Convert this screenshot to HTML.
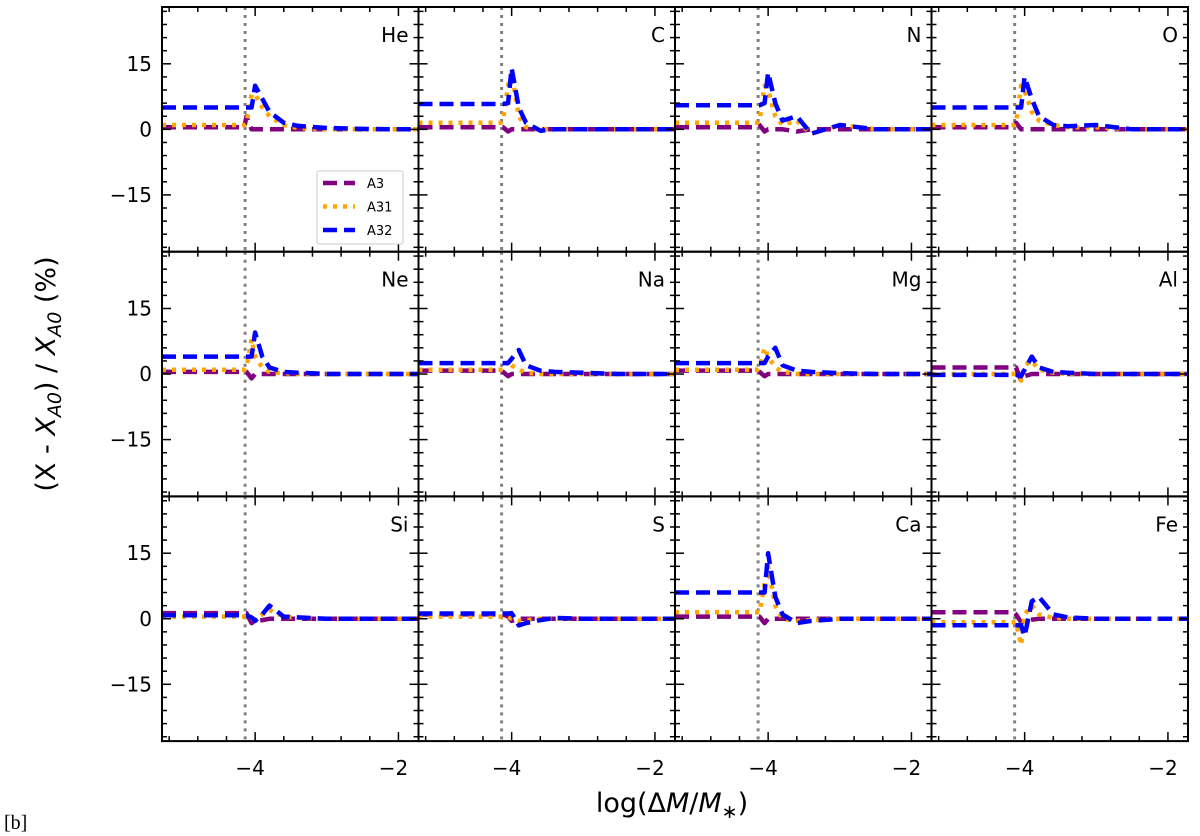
<!DOCTYPE html>
<html><head><meta charset="utf-8"><style>
html,body{margin:0;padding:0;background:#fff;}
svg{display:block;font-family:"DejaVu Sans","Liberation Sans",sans-serif;}
</style></head><body>
<svg id="chart" width="1200" height="836"></svg>
<script>
const elements = ["He","C","N","O","Ne","Na","Mg","Al","Si","S","Ca","Fe"];
const seriesNames = ["A3","A31","A32"];
const xs = [-5.3,-4.15,-4.12,-4.05,-4.0,-3.9,-3.8,-3.6,-3.4,-3.0,-2.5,-2.0,-1.72];
const valsA3 = [
 [0.5,0.5,3,0,0,0,0,0,0,0,0,0,0],
 [0.5,0.5,0.5,-0.5,0,0,0,0,0,0,0,0,0],
 [0.5,0.5,1,-0.5,0,0,0,-0.5,0,0,0,0,0],
 [0.5,0.5,1.5,0,0,0,0,0,0,0,0,0,0],
 [0.5,0.5,0.5,-1,0,0,0,0,0,0,0,0,0],
 [0.8,0.8,0.5,-0.5,0,0,0,0,0,0,0,0,0],
 [0.8,0.8,0.5,-0.5,0,0,0,0,0,0,0,0,0],
 [1.5,1.5,1.5,-1.5,-0.5,0,0,0,0,0,0,0,0],
 [1.3,1.3,1.3,-1,-0.5,-0.3,0,0,0,0,0,0,0],
 [1,1,1,0.5,-0.5,0,0,0,0,0,0,0,0],
 [0.5,0.5,0.5,-1,0,0,0,0,0,0,0,0,0],
 [1.5,1.5,1,-0.8,-0.5,-0.2,0,0,0,0,0,0,0]];
const valsA31 = [
 [1,1,1.5,8,8,5,3,1,0.3,0,0,0,0],
 [1.5,1.5,2,10,13,3,0.5,0,0,0,0,0,0],
 [1.5,1.5,2,10,9,3,1,2,-1,1,0,0,0],
 [1,1,1.5,10,9,4,2,1,0.5,0.5,0,0,0],
 [1,1,1.5,8,4,1.5,0.5,0.2,0,0,0,0,0],
 [1,1,1,3,2,1,0.3,0,0,0,0,0,0],
 [1,1,1.5,6,4,1.5,0.5,0,0,0,0,0,0],
 [0,0,0,-1.5,2,3,1,0.3,0,0,0,0,0],
 [0.5,0.5,0.5,0,0,1,2,0.5,0.2,0,0,0,0],
 [0.5,0.5,0.5,0.5,0,-0.5,-0.3,0,0,0,0,0,0],
 [1.5,1.5,1.5,8,12,3,0,-0.5,-0.3,0,0,0,0],
 [-0.8,-0.8,-0.8,-6,1,3,1,0.2,0,0,0,0,0]];
const valsA32 = [
 [5,5,5,5,10,7,4,1.5,0.8,0.3,0.1,0,0],
 [5.8,5.8,5.8,6,14,5,1.5,-0.3,0,0,0,0,0],
 [5.5,5.5,5.5,6,13,6,2,3,-1,1,0,0,0],
 [5,5,5,5,12,7,3,1,0.7,1,0,0,0],
 [4,4,4,4,9.5,4,1.5,0.5,0.3,0,0,0,0],
 [2.5,2.5,2.5,2.5,3.5,5.5,2,0.8,0.5,0.3,0,0,0],
 [2.5,2.5,2.5,2.5,4,6,2,0.8,0.5,0.2,0,0,0],
 [-0.2,-0.2,-0.2,-0.5,1,4,1.5,0.5,0.3,0,0,0,0],
 [0.8,0.8,0.8,0.3,-0.5,1,3,0.5,0.3,0,0,0,0],
 [1.2,1.2,1.2,1.2,1.3,-1.5,-1,-0.3,0.2,0,0,0,0],
 [6,6,6,6,15,5,1,-1,-0.5,0,0,0,0],
 [-1.5,-1.5,-1.5,-1.5,-4,4,5,1,0.3,0,0,0,0]];
const yTicks = [15,0,-15];
const xTicks = [-4,-2];
const vline = -4.14;

const NS="http://www.w3.org/2000/svg";
const svg=document.getElementById('chart');
const L=162,T=7,PW=256.5,PH=244.7;
const X0=-5.3,X1=-1.72,Y0=-28,Y1=28;
function mk(tag,attrs,parent){const e=document.createElementNS(NS,tag);for(const k in attrs)e.setAttribute(k,attrs[k]);(parent||svg).appendChild(e);return e;}
const styles=[{c:"#800080",d:"14,7",w:4.5},{c:"#FFA500",d:"4,6",w:4.5},{c:"#0000FF",d:"14,7",w:4.5}];
const allVals=[valsA3,valsA31,valsA32];

elements.forEach((el,i)=>{
  const r=Math.floor(i/4),c=i%4;
  const px=L+c*PW,py=T+r*PH;
  const sx=v=>px+(v-X0)/(X1-X0)*PW;
  const sy=v=>py+(Y1-v)/(Y1-Y0)*PH;
  const g=mk('g',{});
  
  
  const cid='clip'+i;
  const cp=mk('clipPath',{id:cid},g);mk('rect',{x:px,y:py,width:PW,height:PH},cp);
  const vl=mk('line',{x1:sx(vline),x2:sx(vline),y1:py,y2:py+PH,stroke:'#808080','stroke-width':3,'stroke-dasharray':'3,5'},g);
  
  
  allVals.forEach((vals,s)=>{
    const pts=xs.map((x,k)=>sx(x).toFixed(1)+','+sy(vals[i][k]).toFixed(1)).join(' ');
    const pl=mk('polyline',{points:pts,fill:'none',stroke:styles[s].c,'stroke-width':styles[s].w,'stroke-dasharray':styles[s].d,'stroke-linejoin':'round','clip-path':'url(#'+cid+')'},g);
    
    
  });
  // ticks
  for(let v=-27;v<=27;v+=3){const y=sy(v);const maj=(v%15===0);const len=maj?9:5;
    mk('line',{x1:px,x2:px+len,y1:y,y2:y,stroke:'#000','stroke-width':1.5},g);
    mk('line',{x1:px+PW,x2:px+PW-len,y1:y,y2:y,stroke:'#000','stroke-width':1.5},g);}
  for(let k=0;k<=8;k++){const v=-5.2+0.4*k;const x=sx(v);const maj=Math.abs(v+4)<0.01||Math.abs(v+2)<0.01;const len=maj?9:5;
    mk('line',{x1:x,x2:x,y1:py+PH,y2:py+PH-len,stroke:'#000','stroke-width':1.5},g);
    mk('line',{x1:x,x2:x,y1:py,y2:py+len,stroke:'#000','stroke-width':1.5},g);}
  mk('rect',{x:px,y:py,width:PW,height:PH,fill:'none',stroke:'#000','stroke-width':2},g);
  const lab=mk('text',{x:px+PW-10,y:py+35,'text-anchor':'end','font-size':20},g);lab.textContent=el;
  
  
  if(c===0) yTicks.forEach(v=>{const t=mk('text',{x:px-10,y:sy(v)+7,'text-anchor':'end','font-size':20},g);t.textContent=v<0?'\u2212'+(-v):String(v);
    
    });
  if(r===2) xTicks.forEach(v=>{const t=mk('text',{x:sx(v)-5,y:py+PH+34,'text-anchor':'middle','font-size':20},g);t.textContent='\u2212'+(-v);
    
    });
  if(i===0){
    const lg=mk('g',{},g);
    
    
    mk('rect',{x:317,y:171,width:86,height:73,fill:'#fff',stroke:'#ccc','stroke-width':1,rx:2},lg);
    seriesNames.forEach((n,s)=>{const y=183+s*23.5;
      mk('line',{x1:323,x2:355,y1:y,y2:y,stroke:styles[s].c,'stroke-width':styles[s].w,'stroke-dasharray':styles[s].d},lg);
      const t=mk('text',{x:367,y:y+5,'font-size':13},lg);t.textContent=n;
      
      });
  }
});
const yt=mk('text',{x:0,y:0,'font-size':27,'text-anchor':'middle',transform:'translate(55,374) rotate(-90)'});
yt.innerHTML='(X - <tspan font-style="italic">X</tspan><tspan font-style="italic" font-size="19" dy="6">A0</tspan><tspan dy="-6">) / </tspan><tspan font-style="italic">X</tspan><tspan font-style="italic" font-size="19" dy="6">A0</tspan><tspan dy="-6"> (%)</tspan>';


const xt=mk('text',{x:672,y:812,'font-size':27,'text-anchor':'middle'});
xt.innerHTML='log(Δ<tspan font-style="italic">M</tspan>/<tspan font-style="italic">M</tspan><tspan font-size="19" dy="6">∗</tspan><tspan dy="-6">)</tspan>';


const bl=mk('text',{x:4,y:829,'font-size':20,'font-family':'"Liberation Serif",serif'});bl.textContent='[b]';


</script>
</body></html>
